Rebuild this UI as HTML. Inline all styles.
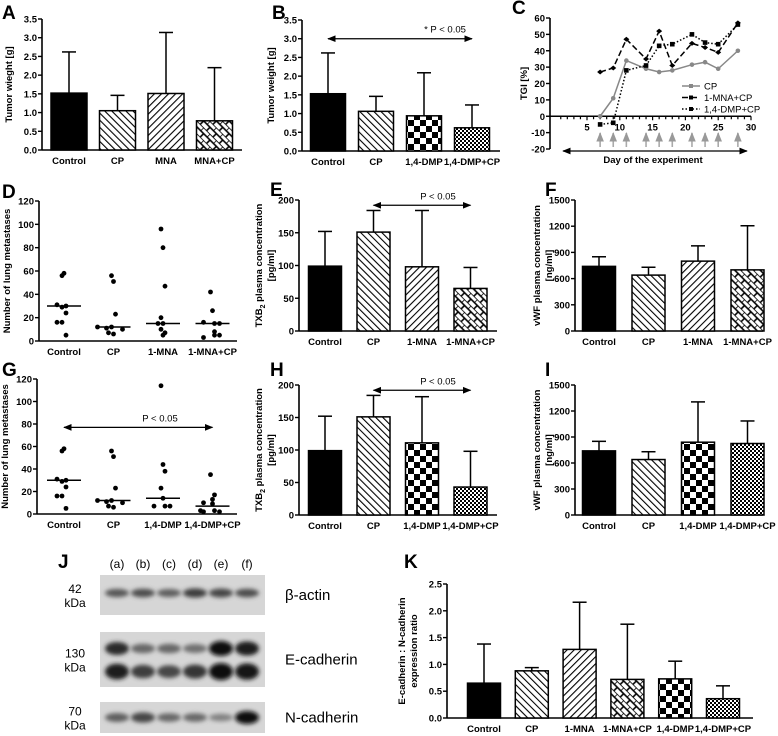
<!DOCTYPE html>
<html><head><meta charset="utf-8"><style>
body{margin:0;background:#fff;}
svg{display:block;font-family:"Liberation Sans",Arial,sans-serif;}
.t{font-size:9.5px;font-weight:bold;}
.L{font-size:19px;font-weight:bold;}
</style></head><body>
<svg id="fig" width="778" height="736" viewBox="0 0 778 736" xmlns="http://www.w3.org/2000/svg">
<defs>
<pattern id="pBack" width="5" height="5" patternUnits="userSpaceOnUse" patternTransform="rotate(-45)"><rect width="5" height="5" fill="#fff"/><line x1="0" y1="0" x2="0" y2="5" stroke="#000" stroke-width="2.2"/></pattern>
<pattern id="pFwd" width="5" height="5" patternUnits="userSpaceOnUse" patternTransform="rotate(45)"><rect width="5" height="5" fill="#fff"/><line x1="0" y1="0" x2="0" y2="5" stroke="#000" stroke-width="2.2"/></pattern>
<pattern id="pBrick" width="9" height="9" patternUnits="userSpaceOnUse" patternTransform="rotate(45)"><rect width="9" height="9" fill="#fff"/><line x1="0" y1="0" x2="9" y2="0" stroke="#000" stroke-width="1.6"/><line x1="0" y1="0" x2="0" y2="4.5" stroke="#000" stroke-width="1.6"/><line x1="4.5" y1="4.5" x2="4.5" y2="9" stroke="#000" stroke-width="1.6"/><line x1="0" y1="4.5" x2="9" y2="4.5" stroke="#000" stroke-width="1.6"/></pattern>
<pattern id="pCheck" width="12" height="12" patternUnits="userSpaceOnUse"><rect width="12" height="12" fill="#fff"/><rect width="6" height="6" fill="#000"/><rect x="6" y="6" width="6" height="6" fill="#000"/></pattern>
<pattern id="pFine" width="4" height="4" patternUnits="userSpaceOnUse"><rect width="4" height="4" fill="#fff"/><rect width="2" height="2" fill="#000"/><rect x="2" y="2" width="2" height="2" fill="#000"/></pattern>
<filter id="blur" x="-20%" y="-50%" width="140%" height="200%"><feGaussianBlur stdDeviation="2.2"/></filter>
<marker id="ah" viewBox="0 0 10 10" refX="9" refY="5" markerWidth="7" markerHeight="7" orient="auto-start-reverse"><path d="M0,1 L10,5 L0,9 Z" fill="#000"/></marker>
<marker id="ahg" viewBox="0 0 10 10" refX="9" refY="5" markerWidth="6" markerHeight="6" orient="auto"><path d="M0,1 L10,5 L0,9 Z" fill="#999"/></marker>
</defs>
</svg>
<script>
// ---- data arrays ----
const catsA = ["Control","CP","MNA","MNA+CP"];
const valsA = [1.52,1.05,1.51,0.78];
const errA = [2.62,1.46,3.14,2.2];
const catsB = ["Control","CP","1,4-DMP","1,4-DMP+CP"];
const valsB = [1.53,1.06,0.94,0.62];
const errB = [2.62,1.46,2.09,1.23];
const weightTicks = [0,0.5,1.0,1.5,2.0,2.5,3.0,3.5];
const daysC = [7,9,11,14,16,18,21,23,25,28];
const tgiCP = [0,11,34,29,27,28,31.5,33,29,40];
const tgiMNA = [27,29.5,47,35,52,31,44.5,42,39,57];
const tgiDMP = [-5,-4,28,31,43,44,50,45,44,56];
const tgiTicks = [-20,-10,0,10,20,30,40,50,60];
const dayTicks = [5,10,15,20,25,30];
const catsD = ["Control","CP","1-MNA","1-MNA+CP"];
const ptsD = [[56,58,30,29,31,24,16,16,5],[56,51,23,12,11,10,12,6,7],[96,80,47,20,15,15,10,5,7],[42,26,15,16,15,5,3,5,8]];
const medD = [30,12,15,15];
const catsG = ["Control","CP","1,4-DMP","1,4-DMP+CP"];
const ptsG = [[56,58,30,29,31,24,16,16,5],[56,51,23,12,11,10,12,6,7],[114,44,38,23,14,7,7,7],[35,13,17,10,9,3,2,2,3]];
const medG = [30,12,14,7];
const metTicks = [0,20,40,60,80,100,120];
const valsE = [99,151,98,65];
const errE = [152,184,184,97];
const valsF = [740,640,800,700];
const errF = [850,730,975,1205];
const valsH = [99,151,111,43];
const errH = [152,184,182,98];
const valsI = [740,640,840,825];
const errI = [850,730,1305,1085];
const txbTicks = [0,50,100,150,200];
const vwfTicks = [0,300,600,900,1200,1500];
const catsK = ["Control","CP","1-MNA","1-MNA+CP","1,4-DMP","1,4-DMP+CP"];
const valsK = [0.65,0.88,1.28,0.72,0.73,0.36];
const errK = [1.38,0.94,2.16,1.75,1.06,0.6];
const ratioTicks = [0,0.5,1.0,1.5,2.0,2.5];
const lanes = ["(a)","(b)","(c)","(d)","(e)","(f)"];
const actinI = [0.55,0.6,0.5,0.7,0.65,0.6];
const ecadTop = [0.8,0.45,0.45,0.4,1,0.9];
const ecadBot = [0.9,0.7,0.65,0.75,1,0.95];
const ncadI = [0.5,0.65,0.45,0.45,0.3,1];

const svg = document.getElementById('fig');
const NS = "http://www.w3.org/2000/svg";
function mk(tag, at, txt){const e=document.createElementNS(NS,tag);for(const k in at)e.setAttribute(k,at[k]);if(txt!==undefined)e.textContent=txt;svg.appendChild(e);return e;}
function letter(x,y,s){const e=mk('text',{x:x,y:y,class:'L'},s);

}
function fmt(v,d){return d?v.toFixed(d):String(v);}

function axisY(p, ticks, dec, label1, label2, lx){
  const yS=v=>p.yb-(v-p.min)/(p.max-p.min)*(p.yb-p.yt);
  const ax=mk('line',{x1:p.ax,y1:p.yt,x2:p.ax,y2:p.yb,stroke:'#000','stroke-width':1.6});
  
  
  ticks.forEach(t=>{
    mk('line',{x1:p.ax-4,y1:yS(t),x2:p.ax,y2:yS(t),stroke:'#000','stroke-width':1.4});
    const tl=mk('text',{x:p.ax-5,y:yS(t)+3.5,'text-anchor':'end',class:'t'},fmt(t,dec));
    
    
  });
  const cy=(p.yt+p.yb)/2;
  const a=mk('text',{x:0,y:0,transform:`translate(${lx},${cy}) rotate(-90)`,'text-anchor':'middle',class:'t','font-size':'10'},'');
  a.innerHTML=label1;
  
  
  if(label2){
    const b=mk('text',{x:0,y:0,transform:`translate(${lx+12},${cy}) rotate(-90)`,'text-anchor':'middle',class:'t','font-size':'10'},label2);
    
    
  }
  return yS;
}
function xAxis(p,cats){
  const xl=mk('line',{x1:p.ax,y1:p.yb,x2:p.xe,y2:p.yb,stroke:'#000','stroke-width':1.6});
  
  
  const xS=i=>p.c0+i*p.sp;
  cats.forEach((c,i)=>{
    const t=mk('text',{x:xS(i),y:p.yb+14,'text-anchor':'middle',class:'t','font-size':p.fs||9.5},c);
    
    
  });
  return xS;
}
function bars(p,cats,vals,errs,fills,ticks,dec,l1,l2,lx){
  const yS=axisY(p,ticks,dec,l1,l2,lx);
  const xS=xAxis(p,cats);
  vals.forEach((v,i)=>{
    const cx=xS(i), w=p.bw;
    const e=mk('line',{x1:cx,y1:yS(v),x2:cx,y2:yS(errs[i]),stroke:'#000','stroke-width':1.5});
    
    
    mk('line',{x1:cx-7,y1:yS(errs[i]),x2:cx+7,y2:yS(errs[i]),stroke:'#000','stroke-width':1.5});
    const r=mk('rect',{x:cx-w/2,y:yS(v),width:w,height:yS(0)-yS(v),fill:fills[i],stroke:'#000','stroke-width':1.5});
    
    
  });
  return {xS,yS};
}
function sigArrow(x1,x2,y,label,lx,id){
  const a=mk('line',{x1:x1,y1:y,x2:x2,y2:y,stroke:'#000','stroke-width':1.2,'marker-start':'url(#ah)','marker-end':'url(#ah)'});
  
  
  const t=mk('text',{x:lx,y:y-6,'text-anchor':'middle','font-size':'9.5'},label);
  
  
}
const F4=['#000','url(#pBack)','url(#pFwd)','url(#pBrick)'];
const F4B=['#000','url(#pBack)','url(#pCheck)','url(#pFine)'];

// A
letter(2,19,'A');
bars({id:'a',ax:42,yt:19,yb:150,xe:242,min:0,max:3.5,c0:69,sp:48.5,bw:36},catsA,valsA,errA,F4,weightTicks,1,'Tumor wieght [g]',null,12);
// B
letter(272,19,'B');
const pb={id:'b',ax:302,yt:20,yb:151,xe:500,min:0,max:3.5,c0:328,sp:48,bw:35,fs:9};
const rb=bars(pb,catsB,valsB,errB,F4B,weightTicks,1,'Tumor weight [g]',null,274);
sigArrow(rb.xS(0),rb.xS(3),rb.yS(3.0),'* P < 0.05',445,'b');

// C
letter(512,14,'C');
(function(){
  const p={id:'c',ax:550,yt:18,yb:149,min:-20,max:60};
  const yS=axisY(p,tgiTicks,0,'TGI [%]',null,527);
  const xS=d=>587+(d-5)*6.56;
  const xa=mk('line',{x1:550,y1:yS(0),x2:xS(30),y2:yS(0),stroke:'#000','stroke-width':1.6});
  
  
  for(let d=1;d<=30;d++) mk('line',{x1:xS(d),y1:yS(0),x2:xS(d),y2:yS(0)+(d%5==0?4:3),stroke:'#000','stroke-width':1.2});
  dayTicks.forEach(d=>{
    const t=mk('text',{x:xS(d),y:yS(0)+14,'text-anchor':'middle',class:'t','font-size':'11'},d);
    
    
  });
  daysC.forEach(d=>{
    const a=mk('line',{x1:xS(d),y1:147,x2:xS(d),y2:133,stroke:'#aaa','stroke-width':1.6,'marker-end':'url(#ahg)'});
    
    
  });
  const da=mk('line',{x1:563,y1:151,x2:747,y2:151,stroke:'#000','stroke-width':1.2,'marker-start':'url(#ah)','marker-end':'url(#ah)'});
  
  
  const xt=mk('text',{x:653,y:163,'text-anchor':'middle',class:'t','font-size':'10'},'Day of the experiment');
  
  
  const series=[[tgiCP,'#888','none','cp','circle'],[tgiMNA,'#000','6,3','1-mna-cp','diamond'],[tgiDMP,'#000','1.5,2','1-4-dmp-cp','square']];
  series.forEach(s=>{
    const pts=daysC.map((d,i)=>xS(d)+','+yS(s[0][i])).join(' ');
    const l=mk('polyline',{points:pts,fill:'none',stroke:s[1],'stroke-width':1.5,'stroke-dasharray':s[2]});
    
    
    daysC.forEach((d,i)=>{
      const x=xS(d),y=yS(s[0][i]);let m;
      if(s[4]=='circle') m=mk('circle',{cx:x,cy:y,r:2.3,fill:s[1]});
      else if(s[4]=='square') m=mk('rect',{x:x-2.3,y:y-2.3,width:4.6,height:4.6,fill:s[1]});
      else m=mk('path',{d:`M${x-3},${y} L${x},${y-2.5} L${x+3},${y} L${x},${y+2.5}Z`,fill:s[1]});
      
      
    });
  });
  const leg=[['CP','#888','none'],['1-MNA+CP','#000','6,3'],['1,4-DMP+CP','#000','1.5,2']];
  leg.forEach((g,i)=>{
    const y=86+i*11.5;
    mk('line',{x1:682,y1:y,x2:700,y2:y,stroke:g[1],'stroke-width':1.5,'stroke-dasharray':g[2]});
    mk('rect',{x:689,y:y-2,width:4,height:4,fill:g[1]});
    const t=mk('text',{x:704,y:y+3.5,'font-size':'9.5'},g[0]);
    
    
  });
})();

// scatter
function scatter(p,cats,pts,meds){
  const yS=axisY(p,metTicks,0,'Number of lung metastases',null,p.ax-29);
  const xS=xAxis(p,cats);
  pts.forEach((arr,i)=>{
    const seen={};
    arr.forEach((v,j)=>{
      const k=Math.round(v/4);seen[k]=(seen[k]||0)+1;
      const n=seen[k];const off=(n%2?1:-1)*Math.floor(n/2)*7+(j%3-1)*2;
      const c=mk('circle',{cx:xS(i)+off,cy:yS(v),r:2.4,fill:'#000'});
      
      
    });
    const m=mk('line',{x1:xS(i)-17,y1:yS(meds[i]),x2:xS(i)+17,y2:yS(meds[i]),stroke:'#000','stroke-width':1.5});
    
    
  });
  return {xS,yS};
}
letter(2,198,'D');
scatter({id:'d',ax:39,yt:201,yb:341,xe:237,min:0,max:120,c0:64,sp:49.5},catsD,ptsD,medD);
letter(2,376,'G');
const rg=scatter({id:'g',ax:37,yt:379,yb:514,xe:237,min:0,max:120,c0:64,sp:49.5,fs:9},catsG,ptsG,medG);
sigArrow(rg.xS(0),rg.xS(3),rg.yS(77),'P < 0.05',160,'g');

// E F H I
const TXB='TXB<tspan font-size="7" dy="3">2</tspan><tspan dy="-3"> plasma concentration</tspan>';
letter(270,196,'E');
const re=bars({id:'e',ax:299,yt:200,yb:331,xe:497,min:0,max:200,c0:325,sp:48.5,bw:33},catsD,valsE,errE,F4,txbTicks,0,TXB,'[pg/ml]',262);
sigArrow(re.xS(1),re.xS(3),re.yS(195)+2,'P < 0.05',438,'e');
letter(545,196,'F');
bars({id:'f',ax:575,yt:200,yb:331,xe:763,min:0,max:1500,c0:599,sp:49.5,bw:33},catsD,valsF,errF,F4,vwfTicks,0,'vWF plasma concentration','[ng/ml]',540);
letter(270,376,'H');
const rh=bars({id:'h',ax:299,yt:385,yb:515,xe:497,min:0,max:200,c0:325,sp:48.5,bw:33,fs:9},catsG,valsH,errH,F4B,txbTicks,0,TXB,'[pg/ml]',262);
sigArrow(rh.xS(1),rh.xS(3),rh.yS(195)+2,'P < 0.05',438,'h');
letter(545,376,'I');
bars({id:'i',ax:575,yt:385,yb:515,xe:763,min:0,max:1500,c0:599,sp:49.5,bw:33,fs:9},catsG,valsI,errI,F4B,vwfTicks,0,'vWF plasma concentration','[ng/ml]',540);

// K
letter(404,568,'K');
bars({id:'k',ax:447,yt:584,yb:718,xe:753,min:0,max:2.5,c0:484,sp:47.8,bw:33,fs:8.5},catsK,valsK,errK,['#000','url(#pBack)','url(#pFwd)','url(#pBrick)','url(#pCheck)','url(#pFine)'],ratioTicks,1,'E-cadherin : N-cadherin','expression ratio',405);

// J western blot
letter(58,568,'J');
const laneX=i=>117+i*26;
lanes.forEach((l,i)=>{const t=mk('text',{x:laneX(i),y:568,'text-anchor':'middle','font-size':'12'},l);

});
function blot(id,y,h,rows,name,kda){
  const r=mk('rect',{x:100,y:y,width:165,height:h,fill:'#d6d6d6'});
  
  
  rows.forEach(rw=>{rw[0].forEach((v,i)=>{
    const g=Math.round(180-170*v);
    const b=mk('ellipse',{cx:laneX(i),cy:y+rw[1]*h,rx:12,ry:2.5+rw[2]*v,fill:`rgb(${g},${g},${g})`,filter:'url(#blur)'});
    
    
  });});
  const t=mk('text',{x:285,y:y+h/2+5,'font-size':'15'},name);
  
  
  const k1=mk('text',{x:75,y:y+h/2-2,'text-anchor':'middle','font-size':'12'},kda);
  
  
  mk('text',{x:75,y:y+h/2+12,'text-anchor':'middle','font-size':'12'},'kDa');
}
blot('actin',575,40,[[actinI,0.45,3]],'β-actin','42');
blot('ecad',632,55,[[ecadTop,0.3,5],[ecadBot,0.72,6]],'E-cadherin','130');
blot('ncad',702,31,[[ncadI,0.5,4]],'N-cadherin','70');
</script>
</body></html>
